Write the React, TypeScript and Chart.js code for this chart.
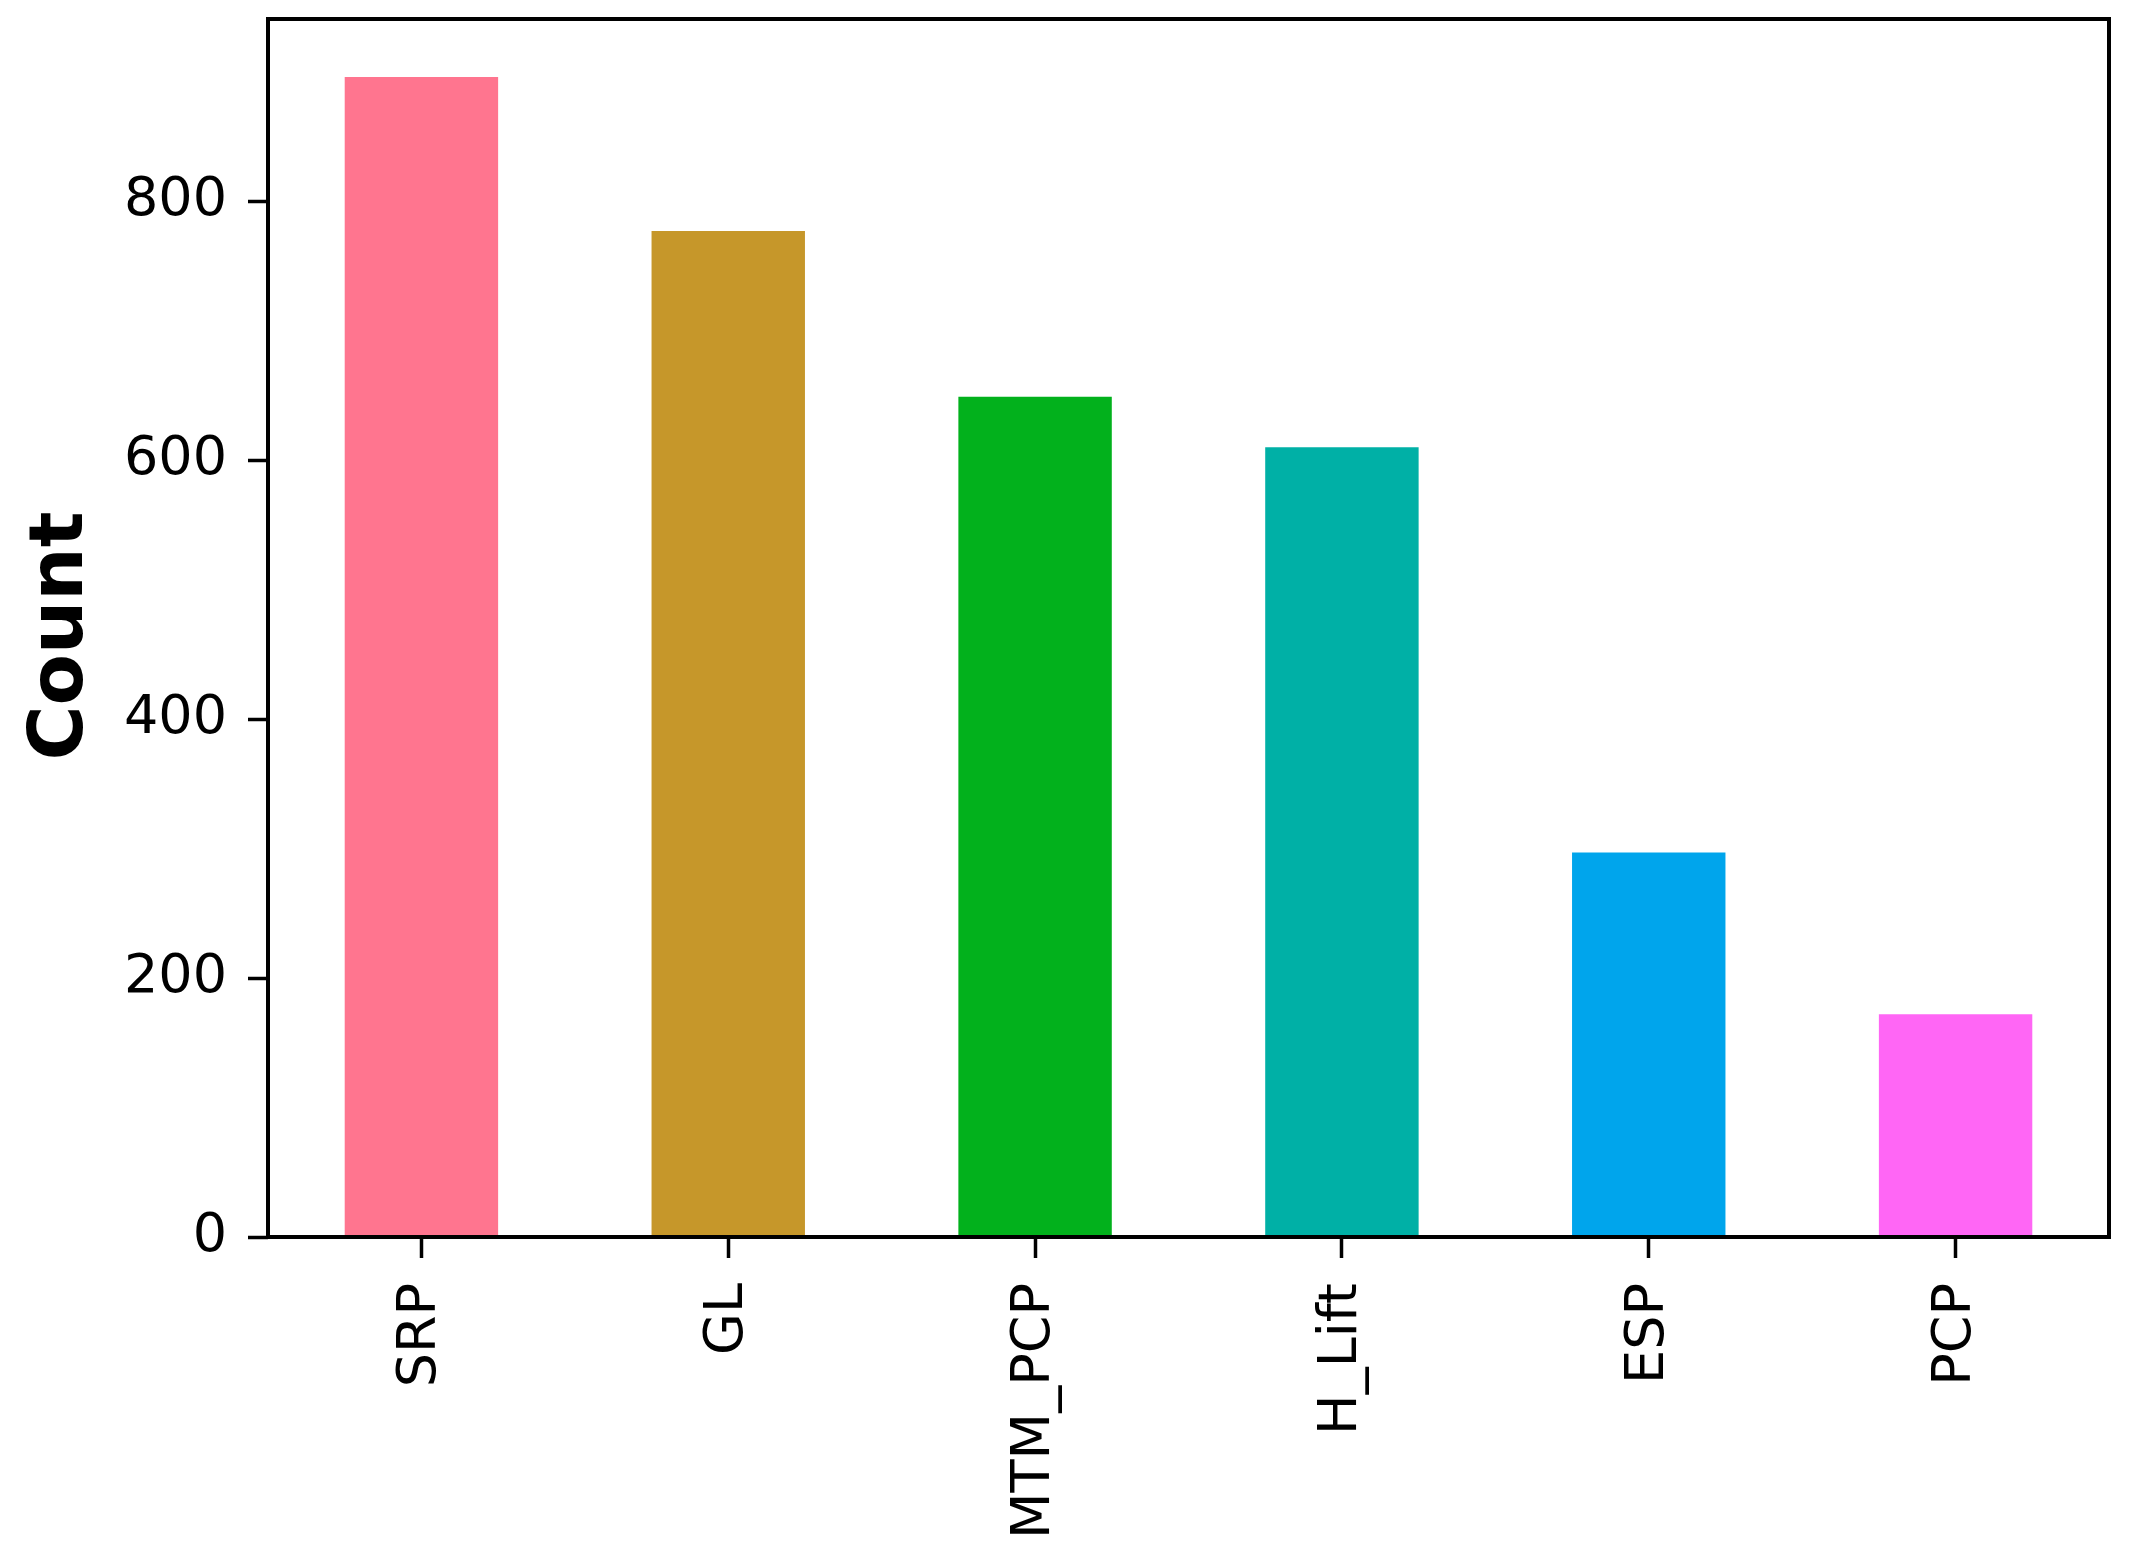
import { useEffect, useRef } from "react";
import { Chart, registerables } from "chart.js";

Chart.register(...registerables);

const categories = ["SRP", "GL", "MTM_PCP", "H_Lift", "ESP", "PCP"];
const counts = [896, 777, 649, 610, 297, 172];
const barColors = ["#FF758F", "#C6972A", "#02B11C", "#00B0A6", "#00A5EC", "#FF66F5"];
const yTicks = [0, 200, 400, 600, 800];
const yMax = 940.8;
const yTitle = "Count";

// matplotlib style frame round the plot area, drawn over the bars, plus the y label
const framePlugin = {
  id: "frame",
  afterDatasetsDraw(chart: Chart) {
    const { ctx, chartArea: a } = chart;
    ctx.save();
    ctx.strokeStyle = "#000";
    ctx.lineWidth = 4;
    ctx.strokeRect(a.left, a.top, a.right - a.left, a.bottom - a.top);
    ctx.translate(63, (a.top + a.bottom) / 2 + 8);
    ctx.rotate(-Math.PI / 2);
    ctx.fillStyle = "#000";
    ctx.font = "bold 75px 'DejaVu Sans', sans-serif";
    ctx.textAlign = "center";
    ctx.textBaseline = "middle";
    ctx.fillText(yTitle, 0, 0);
    ctx.restore();
  },
};

const noPad = (s: any) => {
  s.paddingTop = 0;
  s.paddingBottom = 0;
  s.paddingLeft = 0;
  s.paddingRight = 0;
};

export default function App() {
  const canvasRef = useRef<HTMLCanvasElement>(null);

  useEffect(() => {
    document.body.style.margin = "0";
    if (!canvasRef.current) return;
    Chart.defaults.font.family = "'DejaVu Sans', sans-serif";
    const chart = new Chart(canvasRef.current, {
      type: "bar",
      data: {
        labels: categories,
        datasets: [{ label: yTitle, data: counts, backgroundColor: barColors, borderWidth: 0, barPercentage: 0.5, categoryPercentage: 1 }],
      },
      options: {
        animation: false,
        responsive: true,
        maintainAspectRatio: false,
        layout: { padding: { left: 0, top: 19, right: 23, bottom: 0 } },
        plugins: { legend: { display: false }, tooltip: { enabled: false } },
        scales: {
          x: {
            afterFit: (s: any) => { s.height = 323; noPad(s); },
            grid: { display: true, offset: false, drawOnChartArea: false, drawTicks: true, tickLength: 21, tickWidth: 3.5, tickColor: "#000" },
            border: { display: false },
            ticks: { color: "#000", font: { size: 54 }, minRotation: 90, maxRotation: 90, padding: 25, autoSkip: false },
          },
          y: {
            min: 0,
            max: yMax,
            afterFit: (s: any) => { s.width = 268; noPad(s); },
            afterBuildTicks: (s: any) => { s.ticks = yTicks.map((v) => ({ value: v })); },
            grid: { display: true, drawOnChartArea: false, drawTicks: true, tickLength: 20, tickWidth: 3.5, tickColor: "#000" },
            border: { display: false },
            ticks: { color: "#000", font: { size: 54 }, padding: 21 },
          },
        },
      },
      plugins: [framePlugin],
    });
    return () => chart.destroy();
  }, []);

  return (
    <div style={{ position: "relative", width: 2132, height: 1560, background: "#fff" }}>
      <canvas ref={canvasRef} />
    </div>
  );
}
